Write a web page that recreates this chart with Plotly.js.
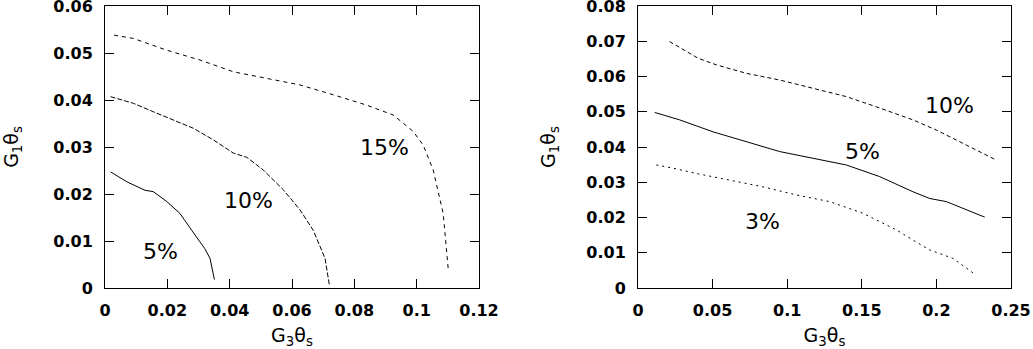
<!DOCTYPE html>
<html>
<head>
<meta charset="utf-8">
<script src="https://cdn.plot.ly/plotly-3.0.1.min.js"></script>
<style>
  html, body { margin: 0; padding: 0; background: #fff; }
  #plot { width: 1033px; height: 349px; }
</style>
</head>
<body>
<div id="plot"></div>
<script>
// left panel: contours in (G3 theta_s, G1 theta_s)
const left5x = [0.0018, 0.007, 0.0128, 0.0155, 0.0198, 0.024, 0.0278, 0.032, 0.0337, 0.0351];
const left5y = [0.0247, 0.0226, 0.0208, 0.0205, 0.0184, 0.0159, 0.0123, 0.0084, 0.0063, 0.0018];

const left10x = [0.0018, 0.0091, 0.0155, 0.0219, 0.0283, 0.0348, 0.0412, 0.0455, 0.0508, 0.0572, 0.0626, 0.0668, 0.0706, 0.072];
const left10y = [0.0407, 0.0393, 0.0375, 0.0357, 0.034, 0.0315, 0.0287, 0.0278, 0.0251, 0.0209, 0.0166, 0.0123, 0.0063, 0.0006];

const left15x = [0.0029, 0.0091, 0.0198, 0.0305, 0.0412, 0.0519, 0.0626, 0.0733, 0.084, 0.0925, 0.0989, 0.1021, 0.1053, 0.1085, 0.1101];
const left15y = [0.0538, 0.0531, 0.0506, 0.0485, 0.046, 0.0446, 0.0432, 0.0411, 0.0389, 0.0368, 0.0333, 0.0304, 0.0251, 0.0159, 0.0042];

// right panel
const right10x = [0.0212, 0.0402, 0.0525, 0.0726, 0.095, 0.1173, 0.1396, 0.1597, 0.1843, 0.2, 0.2178, 0.2401];
const right10y = [0.0699, 0.0652, 0.0633, 0.0609, 0.059, 0.0567, 0.0543, 0.0514, 0.0477, 0.0448, 0.041, 0.0363];

const right5x = [0.0112, 0.0279, 0.0503, 0.0726, 0.095, 0.1173, 0.1396, 0.162, 0.1843, 0.1955, 0.2067, 0.2178, 0.2324];
const right5y = [0.0498, 0.0477, 0.0443, 0.0415, 0.0387, 0.0368, 0.0349, 0.0316, 0.0273, 0.0254, 0.0245, 0.0226, 0.0201];

const right3x = [0.0123, 0.0235, 0.0391, 0.0614, 0.0838, 0.1061, 0.1285, 0.1508, 0.1731, 0.1843, 0.1955, 0.2111, 0.2245];
const right3y = [0.0349, 0.034, 0.0325, 0.0306, 0.0287, 0.0264, 0.0245, 0.0212, 0.0165, 0.0136, 0.0108, 0.0084, 0.0043];

// tick values and labels
const leftXTicks = [0, 0.02, 0.04, 0.06, 0.08, 0.1, 0.12];
const leftXText = ["0", "0.02", "0.04", "0.06", "0.08", "0.1", "0.12"];
const leftYTicks = [0, 0.01, 0.02, 0.03, 0.04, 0.05, 0.06];
const leftYText = ["0", "0.01", "0.02", "0.03", "0.04", "0.05", "0.06"];
const rightXTicks = [0, 0.05, 0.1, 0.15, 0.2, 0.25];
const rightXText = ["0", "0.05", "0.1", "0.15", "0.2", "0.25"];
const rightYTicks = [0, 0.01, 0.02, 0.03, 0.04, 0.05, 0.06, 0.07, 0.08];
const rightYText = ["0", "0.01", "0.02", "0.03", "0.04", "0.05", "0.06", "0.07", "0.08"];

// contour labels
const leftLabels = ["5%", "10%", "15%"];
const leftLabelX = [0.0179, 0.046, 0.0898];
const leftLabelY = [0.0077, 0.0187, 0.0300];
const rightLabels = ["3%", "5%", "10%"];
const rightLabelX = [0.0833, 0.1503, 0.2089];
const rightLabelY = [0.0188, 0.0387, 0.0519];

const line = (x, y, dash, xa, ya) => ({
    x: x, y: y, xaxis: xa, yaxis: ya,
    type: "scatter", mode: "lines",
    line: { color: "#000", width: 1, dash: dash },
    showlegend: false, hoverinfo: "skip"
});

const data = [
    line(left5x, left5y, "solid", "x", "y"),
    line(left10x, left10y, "5px,2px", "x", "y"),
    line(left15x, left15y, "4px,4px", "x", "y"),
    line(right10x, right10y, "4px,3px", "x2", "y2"),
    line(right5x, right5y, "solid", "x2", "y2"),
    line(right3x, right3y, "2px,4px", "x2", "y2")
];

const tickFont = { family: "DejaVu Sans", size: 16, color: "#000", weight: "bold" };
const titleFont = { family: "DejaVu Sans", size: 19, color: "#000" };

const axisBase = {
    showgrid: false, zeroline: false,
    showline: true, linecolor: "#000", linewidth: 1, mirror: "ticks",
    ticks: "inside", ticklen: 9, tickcolor: "#000", tickwidth: 1,
    tickfont: tickFont, ticklabelstandoff: 8, tickmode: "array",
    ticklabeloverflow: "allow"
};

const annotations = [];
leftLabels.forEach((t, i) => annotations.push({
    x: leftLabelX[i], y: leftLabelY[i], xref: "x", yref: "y", text: t,
    showarrow: false, font: { family: "DejaVu Sans", size: 22, color: "#000" }
}));
rightLabels.forEach((t, i) => annotations.push({
    x: rightLabelX[i], y: rightLabelY[i], xref: "x2", yref: "y2", text: t,
    showarrow: false, font: { family: "DejaVu Sans", size: 22, color: "#000" }
}));

const layout = {
    width: 1033, height: 349,
    margin: { l: 0, r: 0, t: 0, b: 0 },
    paper_bgcolor: "#fff", plot_bgcolor: "#fff",
    xaxis: Object.assign({}, axisBase, {
        domain: [105 / 1033, 479 / 1033], range: [0, 0.12], anchor: "y",
        tickvals: leftXTicks, ticktext: leftXText,
        title: { text: "G<sub>3</sub>θ<sub>s</sub>", font: titleFont, standoff: 15 }
    }),
    yaxis: Object.assign({}, axisBase, {
        domain: [1 - 288 / 349, 1 - 6 / 349], range: [0, 0.06], anchor: "x",
        tickvals: leftYTicks, ticktext: leftYText,
        title: { text: "G<sub>1</sub>θ<sub>s</sub>", font: titleFont, standoff: 33 }
    }),
    xaxis2: Object.assign({}, axisBase, {
        domain: [638 / 1033, 1011 / 1033], range: [0, 0.25], anchor: "y2",
        tickvals: rightXTicks, ticktext: rightXText,
        title: { text: "G<sub>3</sub>θ<sub>s</sub>", font: titleFont, standoff: 15 }
    }),
    yaxis2: Object.assign({}, axisBase, {
        domain: [1 - 288 / 349, 1 - 6 / 349], range: [0, 0.08], anchor: "x2",
        tickvals: rightYTicks, ticktext: rightYText,
        title: { text: "G<sub>1</sub>θ<sub>s</sub>", font: titleFont, standoff: 25 }
    }),
    annotations: annotations
};

Plotly.newPlot("plot", data, layout, { displayModeBar: false, staticPlot: true });
</script>
</body>
</html>
